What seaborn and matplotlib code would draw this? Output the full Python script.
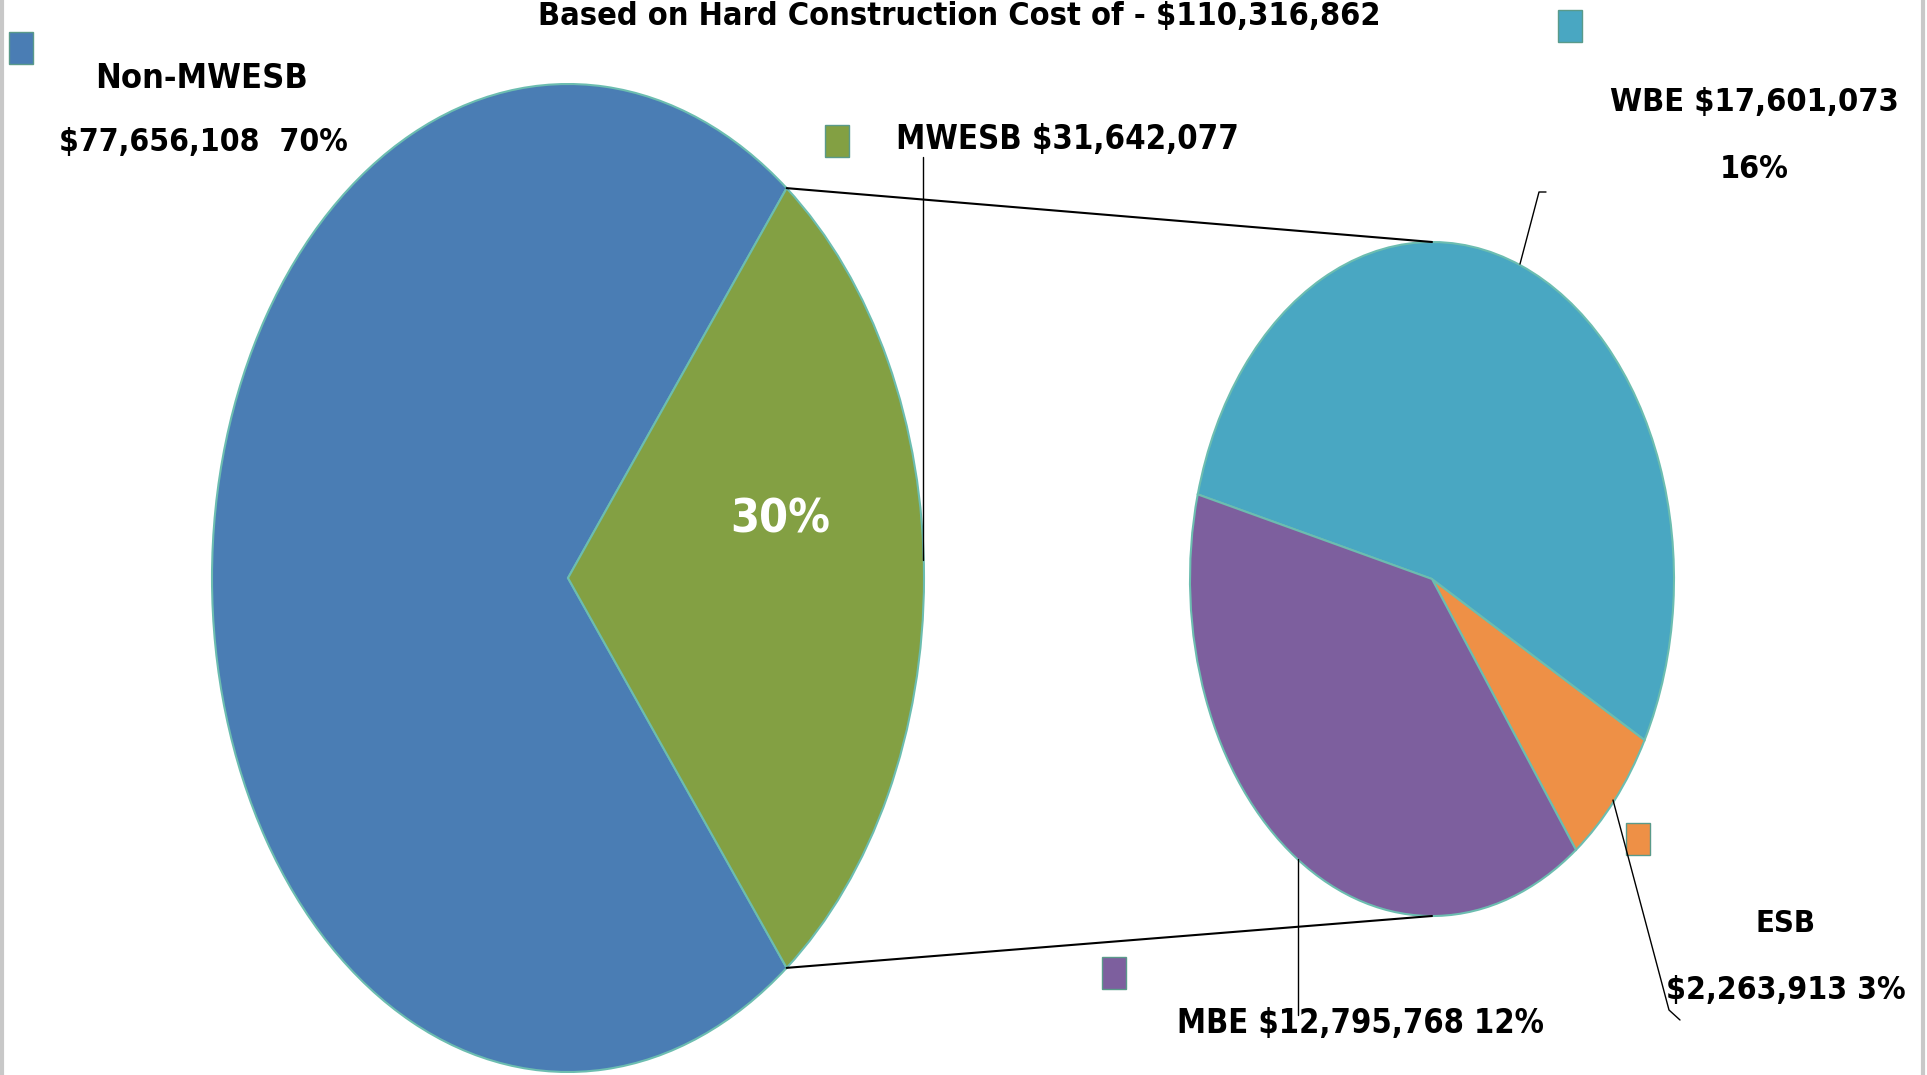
import matplotlib
matplotlib.use("Agg")
import matplotlib.pyplot as plt
from matplotlib import font_manager
import numpy as np
import seaborn as sns
from matplotlib.patches import ConnectionPatch, Rectangle

sns.set_style("white")

# pick a narrow bold face if one is around, else Liberation Sans
family, stretch = 'Liberation Sans', 'normal'
for f in font_manager.fontManager.ttflist:
    if 'Narrow' in f.name or 'Condensed' in f.name or 'condensed' in str(f.stretch):
        family, stretch = f.name, f.stretch
        break
plt.rcParams['font.family'] = [family, 'DejaVu Sans']
plt.rcParams['font.weight'] = 'bold'
plt.rcParams['text.color'] = 'black'

# data
title = "Based on Hard Construction Cost of - $110,316,862"
main_names = ["Non-MWESB", "MWESB"]
main_values = [77656108, 31642077]
main_pcts = ["70%", "30%"]
sub_names = ["ESB", "WBE", "MBE"]
sub_values = [2263913, 17601073, 12795768]
sub_pcts = ["3%", "16%", "12%"]

main_colors = ["#4A7DB4", "#83A043"]
sub_colors = ["#EE9046", "#49A7C2", "#7D5F9E"]
edge = "#6cbdb0"

fig = plt.figure(figsize=(19.27, 10.75), dpi=100)

# big pie (stretched into an ellipse)
ax1 = fig.add_axes([212 / 1927, 3 / 1075, 712 / 1927, 988 / 1075])
frac = main_values[1] / sum(main_values)
half = frac * 180
ax1.pie(main_values, colors=main_colors, startangle=half, radius=1,
        wedgeprops=dict(edgecolor=edge, linewidth=1.5))
ax1.set_aspect('auto')
ax1.set_xlim(-1, 1)
ax1.set_ylim(-1, 1)
ax1.axis('off')

# small pie
ax2 = fig.add_axes([1190 / 1927, 159 / 1075, 484 / 1927, 674 / 1075])
ax2.pie(sub_values, colors=sub_colors, startangle=-53.5, radius=1,
        wedgeprops=dict(edgecolor=edge, linewidth=1.5))
ax2.set_aspect('auto')
ax2.set_xlim(-1, 1)
ax2.set_ylim(-1, 1)
ax2.axis('off')

# connector lines
a = np.deg2rad(half)
for s in (1, -1):
    con = ConnectionPatch(xyA=(np.cos(a), s * np.sin(a)), coordsA=ax1.transData,
                          xyB=(0, s), coordsB=ax2.transData,
                          color="black", linewidth=1.5)
    fig.add_artist(con)

# overlay for labels, in pixel coords
ov = fig.add_axes([0, 0, 1, 1], facecolor="none")
ov.set_xlim(0, 1927)
ov.set_ylim(1075, 0)
ov.axis('off')

renderer = fig.canvas.get_renderer()


def label(x, y, s, width, ha='center', va='center', **kw):
    # size the text so it spans about the same width as in the original
    t = ov.text(x, y, s, ha=ha, va=va, fontsize=20, fontstretch=stretch, **kw)
    w = t.get_window_extent(renderer).width
    t.set_fontsize(20 * width / w)
    return t


label(959, 25, title, 843, va='baseline')

label(201, 78, main_names[0], 212)
label(203, 143, f"${main_values[0]:,}  {main_pcts[0]}", 289)
label(896, 139, f"{main_names[1]} ${main_values[1]:,}", 343, ha='left')
label(780, 520, main_pcts[1], 100, color='white')

label(1754, 102, f"{sub_names[1]} ${sub_values[1]:,}", 289)
label(1754, 170, sub_pcts[1], 69)
label(1786, 924, sub_names[0], 60)
label(1786, 991, f"${sub_values[0]:,} {sub_pcts[0]}", 240)
label(1360, 1024, f"{sub_names[2]} ${sub_values[2]:,} {sub_pcts[2]}", 367)

# legend-like squares
squares = [(9, 32, main_colors[0]), (825, 125, main_colors[1]), (1558, 10, sub_colors[1]),
           (1626, 823, sub_colors[0]), (1102, 957, sub_colors[2])]
for x, y, c in squares:
    ov.add_patch(Rectangle((x, y), 24, 32, facecolor=c, edgecolor="#5a9a8a", linewidth=1))

# leader lines
ov.plot([923, 923], [157, 560], color="black", lw=1)
ov.plot([1546, 1539, 1520], [192, 192, 264], color="black", lw=1)
ov.plot([1613, 1669, 1680], [800, 1010, 1020], color="black", lw=1)
ov.plot([1298, 1298], [859, 1015], color="black", lw=1)

# light frame edges
ov.plot([2, 2], [0, 1075], color="#c8c8c8", lw=3)
ov.plot([1923, 1923], [0, 1075], color="#c8c8c8", lw=3)

fig.savefig("out.png", dpi=100)
